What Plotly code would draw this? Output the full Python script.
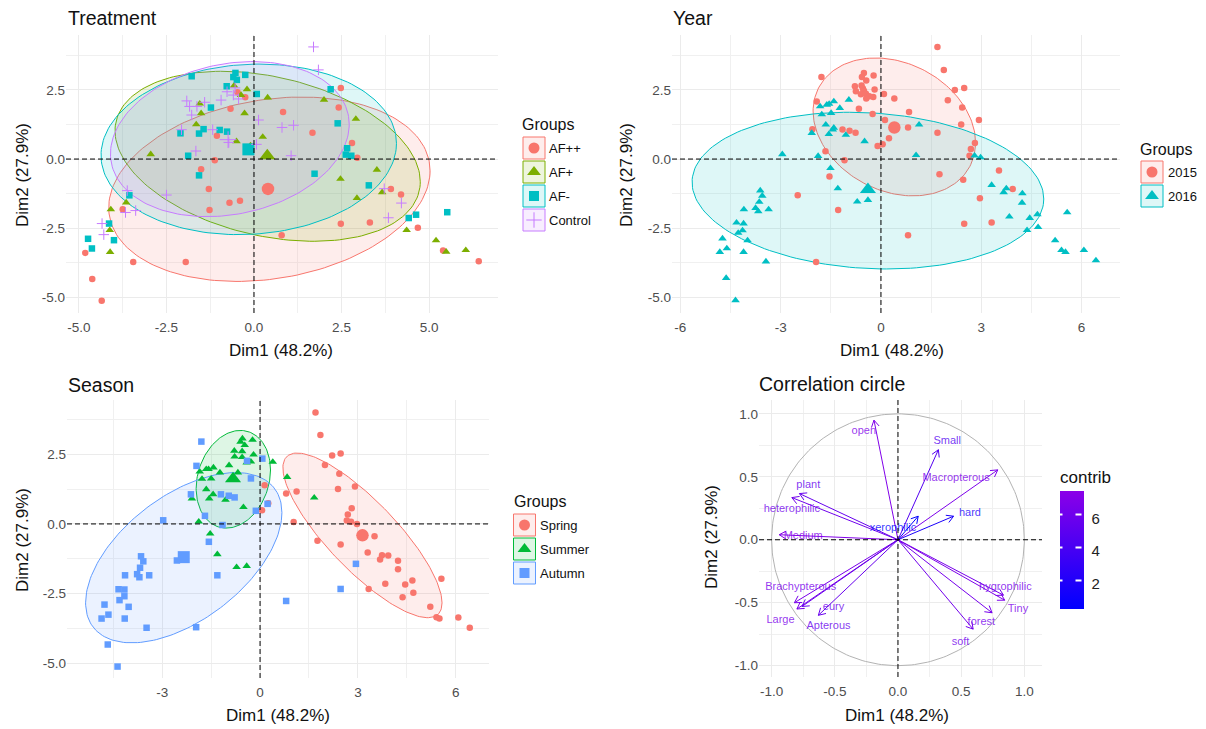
import numpy as np
import plotly.graph_objects as go

W, H = 1206, 729
OFF = 8  # the page body keeps its default 8 px margin
FW, FH = W - 2 * OFF, H - OFF
RED, OLIVE, TEAL, PURPLE = "#F8766D", "#7CAE00", "#00BFC4", "#C77CFF"
GREEN, BLUE = "#00BA38", "#619CFF"
FONT = "Liberation Sans, Arial, sans-serif"

# ---------- Treatment panel ----------
AFPP = [(2.48,2.57),(-0.25,2.23),(2.42,1.86),(-0.67,1.82),(0.83,1.70),(-0.47,2.41),(1.67,0.95),(-1.06,0.84),(2.80,0.58),(2.95,0.05),(-1.12,-0.04),(-1.51,-0.37),(-1.29,-1.08),(-0.70,-1.58),(-0.40,-1.51),(-1.27,-1.84),(-3.75,-1.81),(3.91,-1.08),(4.20,-1.28),(2.48,-2.34),(3.31,-2.29),(0.79,-2.75),(4.68,-2.48),(5.40,-3.30),(6.42,-3.69),(-1.95,-3.72),(-3.45,-3.72),(-4.82,-3.39),(-4.62,-4.33),(-4.35,-5.12)]
AFP = [(-0.20,2.52),(-0.57,2.65),(-0.37,2.31),(0.39,2.22),(2.0,2.14),(-1.55,2.0),(-1.51,1.65),(-0.27,1.65),(-1.65,1.25),(2.91,1.45),(0.25,0.80),(-0.50,0.64),(-0.10,0.49),(-2.95,0.17),(3.51,-0.39),(2.47,-0.72),(3.66,-1.20),(2.94,-1.41),(-3.65,-1.57),(-4.09,-1.82),(-4.12,-2.57),(-4.11,-3.36),(4.36,-2.57),(5.20,-2.94),(5.49,-3.35),(6.05,-3.29)]
AFM = [(-1.78,2.99),(-0.53,3.11),(-0.59,2.96),(-0.49,2.86),(-0.25,3.04),(-0.78,2.63),(0.08,2.35),(2.19,2.52),(-1.23,1.86),(2.39,1.29),(-1.44,1.08),(-0.98,1.05),(-0.77,0.99),(-2.10,0.93),(-1.57,0.92),(2.66,0.39),(2.62,0.16),(2.78,0.12),(-1.88,0.12),(-1.57,-0.59),(1.73,-0.53),(3.28,-0.95),(-3.56,-1.31),(4.42,-2.13),(4.63,-2.01),(5.52,-1.92),(-4.14,-2.33),(-4.74,-2.88),(-4.0,-2.93),(-4.63,-3.23)]
CONTROL = [(1.70,4.05),(1.84,3.22),(-1.92,2.10),(-1.84,1.90),(-1.63,1.90),(-1.41,2.05),(-0.94,2.13),(-0.77,2.43),(-0.59,2.31),(-0.44,2.17),(-0.54,2.57),(-1.78,1.59),(0.13,1.41),(-2.07,1.06),(-1.18,1.06),(0.80,1.14),(1.13,1.22),(-0.72,0.60),(0.07,0.53),(-1.66,0.29),(1.06,0.12),(3.72,-1.07),(4.21,-1.59),(3.84,-2.12),(-2.50,-1.30),(-3.62,-1.14),(-3.67,-1.93),(-3.38,-1.86),(-4.34,-2.33),(-4.29,-2.73)]
TREAT_NAMES = ["AF++", "AF+", "AF-", "Control"]
TREAT_CENTERS = [(0.40,-1.08),(0.38,0.12),(-0.16,0.35),(-0.74,0.70)]
TREAT_HX = [4.59, 4.36, 4.22, 3.41]
TREAT_HY = [3.33, 3.07, 3.08, 2.80]
TREAT_R = [0.20, -0.30, 0.07, 0.19]
TREAT_ELL_C = [(0.44,-1.09),(0.39,0.10),(-0.15,0.35),(-0.69,0.72)]

# ---------- Year panel ----------
Y2015 = [(1.69,4.05),(1.88,3.22),(-1.78,2.96),(-0.51,3.11),(-0.22,3.02),(-0.57,2.96),(-0.44,2.84),(-0.78,2.63),(-0.58,2.66),(-0.54,2.55),(-0.19,2.51),(-0.75,2.45),(-0.51,2.47),(-0.60,2.34),(-0.45,2.36),(-0.35,2.27),(-0.23,2.24),(-0.44,2.19),(0.09,2.35),(0.40,2.19),(2.21,2.49),(2.49,2.57),(2.0,2.12),(2.43,1.86),(-1.92,2.08),(-0.66,1.82),(0.84,1.70),(-0.25,1.63),(0.12,1.41),(2.93,1.41),(2.40,1.25),(-2.05,1.08),(-1.15,1.07),(-0.94,1.02),(-0.76,0.95),(0.81,1.14),(1.69,0.95),(0.24,0.75),(0.05,0.53),(-0.10,0.47),(2.81,0.58),(2.69,0.36),(2.65,0.12),(-1.66,0.28),(-1.09,-0.04),(3.53,-0.41),(1.75,-0.55),(-1.54,-0.63),(2.46,-0.75),(3.94,-1.08),(-2.49,-1.31),(2.96,-1.42),(-1.28,-1.84),(3.31,-2.29),(2.49,-2.34),(0.81,-2.75),(-1.94,-3.72)]
Y2016 = [(-1.41,2.08),(-0.96,2.14),(-1.82,1.90),(-1.62,1.96),(-1.55,1.99),(-1.23,1.84),(-1.77,1.61),(-1.49,1.66),(-1.65,1.24),(-1.41,1.13),(-1.44,1.06),(-2.07,0.94),(-1.56,0.90),(-1.05,0.87),(-0.49,0.64),(1.14,1.24),(-2.95,0.17),(-1.88,0.11),(1.05,0.14),(2.80,0.12),(2.98,0.06),(-1.51,-0.33),(-1.29,-1.06),(-0.39,-1.48),(-0.71,-1.54),(3.31,-0.94),(3.75,-1.06),(3.67,-1.20),(4.23,-1.24),(4.22,-1.58),(3.84,-2.08),(4.45,-2.13),(4.68,-2.0),(4.70,-2.46),(4.37,-2.57),(5.21,-2.94),(5.40,-3.29),(5.52,-3.36),(5.57,-1.93),(6.07,-3.29),(6.43,-3.66),(-3.61,-1.14),(-3.55,-1.33),(-3.64,-1.55),(-3.75,-1.77),(-3.67,-1.89),(-3.36,-1.82),(-4.10,-1.82),(-4.32,-2.30),(-4.11,-2.33),(-4.14,-2.58),(-4.27,-2.67),(-3.99,-2.94),(-4.74,-2.87),(-4.61,-3.23),(-4.82,-3.36),(-4.11,-3.36),(-3.44,-3.70),(-4.63,-4.30),(-4.35,-5.10)]
YEAR_NAMES = ["2015", "2016"]
YEAR_CENTERS = [(0.40,1.14),(-0.39,-1.10)]
YEAR_ELL_C = [(0.40,1.16),(-0.39,-1.14)]
YEAR_HX = [2.43, 5.26]
YEAR_HY = [2.49, 2.83]
YEAR_R = [-0.23, -0.107]

# ---------- Season panel ----------
SPRING = [(1.70,3.99),(1.85,3.19),(2.21,2.45),(2.47,2.52),(1.99,2.11),(2.43,1.80),(2.39,1.25),(2.91,1.34),(1.12,1.16),(0.80,1.09),(2.81,0.56),(2.69,0.34),(2.66,0.12),(2.79,0.08),(2.97,0.0),(1.03,0.07),(3.51,-0.44),(1.76,-0.60),(2.47,-0.74),(3.30,-1.02),(3.74,-1.12),(3.68,-1.27),(3.93,-1.13),(4.23,-1.32),(4.23,-1.62),(3.84,-2.14),(4.45,-2.17),(4.67,-2.03),(5.56,-1.96),(3.33,-2.33),(4.70,-2.47),(4.37,-2.63),(5.22,-2.97),(5.41,-3.34),(5.50,-3.39),(6.08,-3.35),(6.43,-3.72),(0.14,1.39),(0.25,0.74),(0.06,0.49)]
SUMMER = [(-0.54,3.06),(-0.23,3.01),(-0.60,2.94),(-0.47,2.82),(-0.79,2.62),(-0.55,2.60),(-0.20,2.48),(-0.78,2.41),(-0.55,2.39),(-0.41,2.20),(-0.28,2.23),(0.39,2.22),(-0.95,2.10),(-1.43,2.02),(-1.58,1.96),(-1.65,1.96),(-1.85,1.87),(-1.23,1.84),(-0.68,1.84),(-1.78,1.61),(-1.50,1.62),(0.83,1.68),(-1.65,1.24),(-1.44,1.06),(-1.56,0.91),(-2.09,0.91),(-1.06,0.86),(-0.51,0.60),(1.66,0.94),(-1.88,0.08),(-1.53,-0.35),(-1.31,-1.09),(-0.72,-1.55),(-0.41,-1.51)]
AUTUMN = [(-1.80,2.95),(-1.95,2.08),(-0.40,2.26),(0.07,2.34),(-0.28,1.63),(-2.12,1.06),(-1.20,1.06),(-0.96,1.01),(-0.78,0.95),(0.23,0.72),(-0.13,0.47),(-1.69,0.29),(-2.97,0.13),(-1.15,-0.04),(-1.57,-0.64),(2.94,-1.43),(2.47,-2.33),(0.80,-2.76),(-1.31,-1.84),(-1.96,-3.70),(-3.65,-1.16),(-3.58,-1.34),(-2.55,-1.31),(-3.68,-1.57),(-3.77,-1.80),(-3.70,-1.91),(-4.14,-1.84),(-3.40,-1.84),(-4.34,-2.34),(-4.16,-2.35),(-4.16,-2.59),(-4.31,-2.73),(-4.03,-2.97),(-4.77,-2.89),(-4.65,-3.25),(-4.86,-3.39),(-4.15,-3.39),(-3.48,-3.72),(-4.67,-4.32),(-4.37,-5.11)]
SEASON_NAMES = ["Spring", "Summer", "Autumn"]
SEASON_CENTERS = [(3.14,-0.41),(-0.83,1.62),(-2.34,-1.19)]
SEASON_ELL_C = [(3.14,-0.41),(-0.82,1.60),(-2.34,-1.21)]
SEASON_HX = [2.44, 1.14, 3.01]
SEASON_HY = [2.95, 1.75, 3.05]
SEASON_R = [-0.82, 0.19, 0.53]

# ---------- Correlation circle ----------
VAR_NAMES = ["open","Small","Macropterous","hard","xerophilic","plant","heterophilic","Medium","Brachypterous","Large","eury","Apterous","hygrophilic","Tiny","forest","soft"]
VAR_DIM1 = [-0.19,0.32,0.79,0.44,0.16,-0.78,-0.84,-0.94,-0.82,-0.80,-0.76,-0.63,0.835,0.845,0.745,0.595]
VAR_DIM2 = [0.95,0.715,0.555,0.187,0.187,0.367,0.335,0.04,-0.50,-0.55,-0.53,-0.60,-0.44,-0.48,-0.58,-0.71]
LABEL_DIM1 = [-0.27,0.39,0.46,0.57,-0.04,-0.71,-0.84,-0.75,-0.77,-0.93,-0.51,-0.55,0.85,0.95,0.66,0.495]
LABEL_DIM2 = [0.86,0.78,0.49,0.21,0.09,0.43,0.24,0.03,-0.375,-0.64,-0.535,-0.69,-0.375,-0.555,-0.655,-0.815]
VAR_CONTRIB = [7.2,4.8,7.0,1.8,0.5,5.8,6.3,7.3,6.8,6.9,6.0,5.9,6.7,7.0,6.6,6.4]

SCALE_LOW, SCALE_HIGH = "#0000FF", "#8B00E8"
CB_MIN, CB_MAX = 0.42, 7.73
CB_TICKS = [2, 4, 6]
XT = "Dim1 (48.2%)"
YT = "Dim2 (27.9%)"


def fx(px):
    return (px - OFF) / FW


def fy(py):
    return 1 - (py - OFF) / FH


def frac(px_left, px_right, px_top, px_bottom):
    return [fx(px_left), fx(px_right)], [fy(px_bottom), fy(px_top)]


def ellipse(center, hx, hy, r):
    t = np.linspace(0, 2 * np.pi, 181)
    x = center[0] + hx * np.cos(t)
    y = center[1] + hy * (r * np.cos(t) + np.sqrt(1 - r * r) * np.sin(t))
    return x, y


def rgba(hex_color, a):
    h = hex_color.lstrip("#")
    return f"rgba({int(h[:2],16)},{int(h[2:4],16)},{int(h[4:],16)},{a})"


def mix(v, a=1.0):
    t = (v - CB_MIN) / (CB_MAX - CB_MIN)
    lo = [0, 0, 255]
    hi = [0x8B, 0x00, 0xE8]
    return "rgba(" + ",".join(str(int(round(p + (q - p) * t))) for p, q in zip(lo, hi)) + f",{a})"


fig = go.Figure()
GRID = dict(showgrid=True, gridcolor="#ebebeb", gridwidth=1, zeroline=False, showline=False, ticks="",
            tickfont=dict(family=FONT, size=13.5, color="#4d4d4d"), fixedrange=True)

SYMBOL = {"circle": "circle", "tri": "triangle-up", "sq": "square", "plus": "cross-thin-open"}
SIZE = {"circle": 6.5, "tri": 7.5, "sq": 6.5, "plus": 7.5}
BIG = {"circle": 12.5, "tri": 14, "sq": 12, "plus": 12}


def marker(kind, color, size):
    if kind == "plus":
        return dict(symbol=SYMBOL[kind], size=size, color=color, line=dict(color=color, width=1))
    return dict(symbol=SYMBOL[kind], size=size, color=color, line=dict(width=0))


def add_panel(n, groups, names, colors, kinds, centers, ell_c, hx, hy, r):
    xa, ya = f"x{n}" if n > 1 else "x", f"y{n}" if n > 1 else "y"
    for i in range(len(groups)):
        ex, ey = ellipse(ell_c[i], hx[i], hy[i], r[i])
        fig.add_trace(go.Scatter(x=ex, y=ey, mode="lines", fill="toself",
                                 fillcolor=rgba(colors[i], 0.13), line=dict(color=colors[i], width=1),
                                 xaxis=xa, yaxis=ya, showlegend=False, hoverinfo="skip"))
    for i, g in enumerate(groups):
        fig.add_trace(go.Scatter(x=[p[0] for p in g], y=[p[1] for p in g], mode="markers", name=names[i],
                                 marker=marker(kinds[i], colors[i], SIZE[kinds[i]]),
                                 xaxis=xa, yaxis=ya, showlegend=False))
        fig.add_trace(go.Scatter(x=[centers[i][0]], y=[centers[i][1]], mode="markers",
                                 marker=marker(kinds[i], colors[i], BIG[kinds[i]]),
                                 xaxis=xa, yaxis=ya, showlegend=False, hoverinfo="skip"))


add_panel(1, [AFPP, AFP, AFM, CONTROL], TREAT_NAMES, [RED, OLIVE, TEAL, PURPLE],
          ["circle", "tri", "sq", "plus"], TREAT_CENTERS, TREAT_ELL_C, TREAT_HX, TREAT_HY, TREAT_R)
add_panel(2, [Y2015, Y2016], YEAR_NAMES, [RED, TEAL], ["circle", "tri"], YEAR_CENTERS, YEAR_ELL_C, YEAR_HX, YEAR_HY, YEAR_R)
add_panel(3, [SPRING, SUMMER, AUTUMN], SEASON_NAMES, [RED, GREEN, BLUE], ["circle", "tri", "sq"],
          SEASON_CENTERS, SEASON_ELL_C, SEASON_HX, SEASON_HY, SEASON_R)

# correlation circle
t = np.linspace(0, 2 * np.pi, 241)
fig.add_trace(go.Scatter(x=np.cos(t), y=np.sin(t), mode="lines", line=dict(color="#b3b3b3", width=1),
                         xaxis="x4", yaxis="y4", showlegend=False, hoverinfo="skip"))
HEAD = 0.062
for name, vx, vy, c in zip(VAR_NAMES, VAR_DIM1, VAR_DIM2, VAR_CONTRIB):
    ang = np.arctan2(vy, vx)
    h1 = ang + np.pi - np.pi / 6
    h2 = ang + np.pi + np.pi / 6
    xs = [0, vx, None, vx + HEAD * np.cos(h1), vx, vx + HEAD * np.cos(h2)]
    ys = [0, vy, None, vy + HEAD * np.sin(h1), vy, vy + HEAD * np.sin(h2)]
    fig.add_trace(go.Scatter(x=xs, y=ys, mode="lines", name=name, line=dict(color=mix(c), width=1),
                             xaxis="x4", yaxis="y4", showlegend=False, hoverinfo="skip"))
fig.add_trace(go.Scatter(x=LABEL_DIM1, y=LABEL_DIM2, mode="text", text=VAR_NAMES,
                         textfont=dict(family=FONT, size=11, color=[mix(c, 0.8) for c in VAR_CONTRIB]),
                         xaxis="x4", yaxis="y4", showlegend=False, hoverinfo="skip"))
# colour bar carried by an invisible point
fig.add_trace(go.Scatter(x=[None], y=[None], mode="markers", xaxis="x4", yaxis="y4", showlegend=False,
                         marker=dict(color=[CB_MIN], cmin=CB_MIN, cmax=CB_MAX, size=1,
                                     colorscale=[[0, SCALE_LOW], [1, SCALE_HIGH]],
                                     colorbar=dict(x=fx(1060), xanchor="left", y=fy(467), yanchor="top",
                                                   len=142, lenmode="pixels", thickness=24, thicknessmode="pixels",
                                                   xpad=0, ypad=0, outlinewidth=0, tickvals=CB_TICKS,
                                                   ticks="outside", ticklen=5, tickcolor="white",
                                                   tickfont=dict(family=FONT, size=15, color="#222"),
                                                   title=dict(text="contrib", side="top",
                                                              font=dict(family=FONT, size=17, color="#111"))))))

# legend keys on a full-figure overlay measured in figure pixels
LEG_X = [534, 1152, 524.5]
LEG_Y = [(148, 172, 196, 220), (172, 196), (525, 549, 573)]
LEG_TEXT_X = [547, 1166, 538]
LEG_TITLE = [(520, 124), (1138, 149), (512, 501)]
LEG_NAMES = [TREAT_NAMES, YEAR_NAMES, SEASON_NAMES]
LEG_COL = [[RED, OLIVE, TEAL, PURPLE], [RED, TEAL], [RED, GREEN, BLUE]]
LEG_KIND = [["circle", "tri", "sq", "plus"], ["circle", "tri"], ["circle", "tri", "sq"]]
KEY_SIZE = {"circle": 11, "tri": 12, "sq": 10, "plus": 11}
shapes, annos = [], []
for lx, lys, tx, (gx, gy), nm, cl, kd in zip(LEG_X, LEG_Y, LEG_TEXT_X, LEG_TITLE, LEG_NAMES, LEG_COL, LEG_KIND):
    annos.append(dict(x=fx(gx), y=fy(gy), xref="paper", yref="paper", text="Groups", showarrow=False,
                      xanchor="left", yanchor="middle", font=dict(family=FONT, size=16, color="#111")))
    for ly, n_, c_, k_ in zip(lys, nm, cl, kd):
        shapes.append(dict(type="rect", xref="paper", yref="paper", x0=fx(lx - 11), x1=fx(lx + 11),
                           y0=fy(ly + 11), y1=fy(ly - 11), line=dict(color=c_, width=1),
                           fillcolor=rgba(c_, 0.13)))
        fig.add_trace(go.Scatter(x=[lx], y=[ly], mode="markers", marker=marker(k_, c_, KEY_SIZE[k_]),
                                 xaxis="x5", yaxis="y5", showlegend=False, hoverinfo="skip"))
        annos.append(dict(x=fx(tx), y=fy(ly), xref="paper", yref="paper", text=n_, showarrow=False,
                          xanchor="left", yanchor="middle", font=dict(family=FONT, size=13, color="#111")))

# titles
for txt, px, py in [("Treatment", 66, 18), ("Year", 671, 18), ("Season", 66, 385), ("Correlation circle", 757, 384)]:
    annos.append(dict(x=fx(px), y=fy(py), xref="paper", yref="paper", text=txt, showarrow=False,
                      xanchor="left", yanchor="middle", font=dict(family=FONT, size=19.5, color="#111")))

# axis titles
TFONT = dict(family=FONT, size=17, color="#111")
for px, py in [(281, 350), (892, 350), (278, 715), (897, 715)]:
    annos.append(dict(x=fx(px), y=fy(py), xref="paper", yref="paper", text=XT, showarrow=False,
                      xanchor="center", yanchor="middle", font=TFONT))
for px, py in [(22, 175), (626, 175), (22, 540), (711, 537)]:
    annos.append(dict(x=fx(px), y=fy(py), xref="paper", yref="paper", text=YT, showarrow=False, textangle=-90,
                      xanchor="center", yanchor="middle", font=TFONT))

# white notches on the colour bar's left edge
for v in CB_TICKS:
    py = 608 - (v - CB_MIN) / (CB_MAX - CB_MIN) * 120
    annos.append(dict(x=fx(1062.5), y=fy(py), xref="paper", yref="paper", text=" ", showarrow=False,
                      width=5, height=1, bgcolor="white", borderpad=0, font=dict(size=1)))
    annos.append(dict(x=fx(1081.5), y=fy(py), xref="paper", yref="paper", text=" ", showarrow=False,
                      width=5, height=1, bgcolor="white", borderpad=0, font=dict(size=1)))

# zero reference lines
DASH = dict(color="black", width=1, dash="5px,3px")
for n in ["", "2", "3", "4"]:
    shapes.append(dict(type="line", xref=f"x{n} domain", yref=f"y{n}", x0=0, x1=1, y0=0, y1=0, line=DASH))
    shapes.append(dict(type="line", xref=f"x{n}", yref=f"y{n} domain", x0=0, x1=0, y0=0, y1=1, line=DASH))


def xaxis(dom, rng, vals, txt, minor):
    return dict(GRID, domain=dom, range=rng, tickvals=vals, ticktext=txt, ticklabelstandoff=4,
                minor=dict(tickvals=minor, showgrid=True, gridcolor="#f0f0f0", gridwidth=0.6, ticks=""))


def yaxis(dom, rng, vals, txt, minor):
    return dict(GRID, domain=dom, range=rng, tickvals=vals, ticktext=txt,
                minor=dict(tickvals=minor, showgrid=True, gridcolor="#f0f0f0", gridwidth=0.6, ticks=""))


Y_VALS = [-5, -2.5, 0, 2.5]
Y_TXT = ["-5.0", "-2.5", "0.0", "2.5"]
Y_MINOR = [-3.75, -1.25, 1.25, 3.75]

d1x, d1y = frac(66, 498, 35, 313)
d2x, d2y = frac(672, 1120, 35, 313)
d3x, d3y = frac(67, 489, 400, 678)
d4x, d4y = frac(759, 1042, 400, 677)

lay = {}
lay["xaxis"] = xaxis(d1x, [-5.37, 6.97], [-5, -2.5, 0, 2.5, 5], ["-5.0", "-2.5", "0.0", "2.5", "5.0"], [-3.75, -1.25, 1.25, 3.75])
lay["yaxis"] = yaxis(d1y, [-5.56, 4.48], Y_VALS, Y_TXT, Y_MINOR)
lay["xaxis2"] = xaxis(d2x, [-6.25, 7.15], [-6, -3, 0, 3, 6], ["-6", "-3", "0", "3", "6"], [-4.5, -1.5, 1.5, 4.5])
lay["yaxis2"] = yaxis(d2y, [-5.56, 4.48], Y_VALS, Y_TXT, Y_MINOR)
lay["xaxis3"] = xaxis(d3x, [-5.92, 7.02], [-3, 0, 3, 6], ["-3", "0", "3", "6"], [-4.5, -1.5, 1.5, 4.5])
lay["yaxis3"] = yaxis(d3y, [-5.52, 4.44], Y_VALS, Y_TXT, Y_MINOR)
v4 = [-1, -0.5, 0, 0.5, 1]
t4 = ["-1.0", "-0.5", "0.0", "0.5", "1.0"]
m4 = [-0.75, -0.25, 0.25, 0.75]
lay["xaxis4"] = xaxis(d4x, [-1.10, 1.14], v4, t4, m4)
lay["yaxis4"] = yaxis(d4y, [-1.09, 1.11], v4, t4, m4)
for i in ["", "2", "3", "4"]:
    lay[f"xaxis{i}"]["anchor"] = f"y{i}"
    lay[f"yaxis{i}"]["anchor"] = f"x{i}"
lay["xaxis5"] = dict(domain=[0, 1], range=[OFF, W - OFF], visible=False, fixedrange=True, anchor="y5")
lay["yaxis5"] = dict(domain=[0, 1], range=[H, OFF], visible=False, fixedrange=True, anchor="x5")

fig.update_layout(width=FW, height=FH, margin=dict(l=0, r=0, t=0, b=0), paper_bgcolor="white",
                  plot_bgcolor="rgba(0,0,0,0)",
                  showlegend=False, shapes=shapes, annotations=annos, font=dict(family=FONT), **lay)
fig.write_html("out.html")
